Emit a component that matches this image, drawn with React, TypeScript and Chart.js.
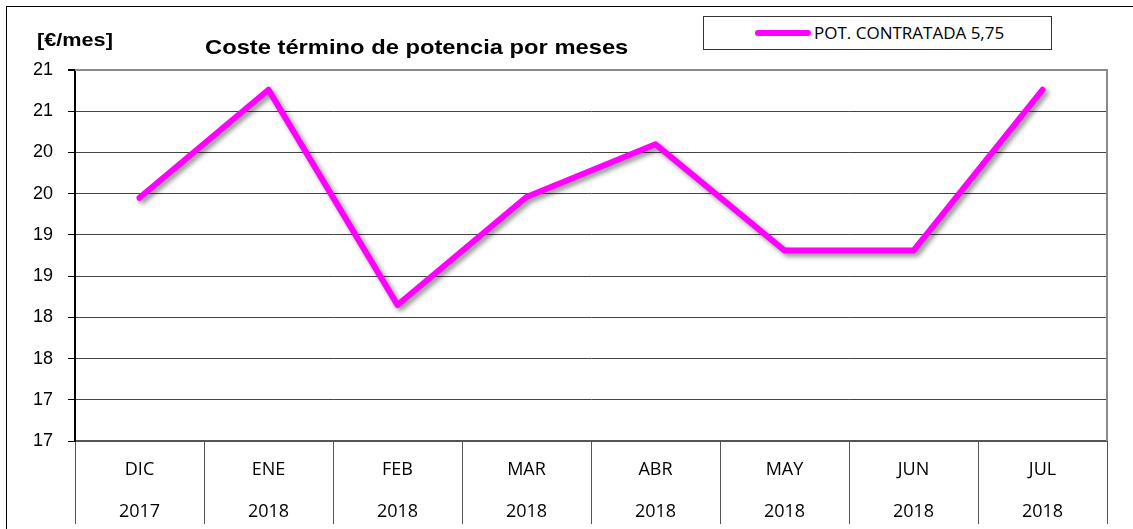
import React, { useEffect, useRef } from "react";
import { Chart, registerables } from "chart.js";

Chart.register(...registerables);

const months = ["DIC", "ENE", "FEB", "MAR", "ABR", "MAY", "JUN", "JUL"];
const years = ["2017", "2018", "2018", "2018", "2018", "2018", "2018", "2018"];
const costValues = [19.45, 20.76, 18.15, 19.46, 20.1, 18.81, 18.81, 20.76];
const seriesName = "POT. CONTRATADA 5,75";
const titleText = "Coste término de potencia por meses";
const unitText = "[€/mes]";
const yMin = 16.5;
const yMax = 21;
const yStep = 0.5;

const MAGENTA = "#FF00FF";

export default function App() {
  const canvasRef = useRef<HTMLCanvasElement | null>(null);

  useEffect(() => {
    const canvas = canvasRef.current;
    if (!canvas) return;

    const shadowPlugin = {
      id: "lineShadow",
      beforeDatasetsDraw(chart: any) {
        const ctx = chart.ctx;
        ctx.save();
        ctx.shadowColor = "rgba(0,0,0,0.45)";
        ctx.shadowBlur = 5;
        ctx.shadowOffsetX = 3;
        ctx.shadowOffsetY = 3;
      },
      afterDatasetsDraw(chart: any) {
        chart.ctx.restore();
      },
    };

    const framePlugin = {
      id: "frame",
      beforeDatasetsDraw(chart: any) {
        const { ctx, chartArea } = chart;
        ctx.save();
        ctx.strokeStyle = "#8a8a8a";
        ctx.lineWidth = 2;
        ctx.beginPath();
        ctx.moveTo(chartArea.left, chartArea.top);
        ctx.lineTo(chartArea.right, chartArea.top);
        ctx.lineTo(chartArea.right, chartArea.bottom);
        ctx.stroke();
        ctx.restore();
      },
    };

    const chart = new Chart(canvas, {
      type: "line",
      data: {
        labels: months.map((m, i) => [m, years[i]]),
        datasets: [
          {
            label: seriesName,
            data: costValues,
            borderColor: MAGENTA,
            backgroundColor: MAGENTA,
            borderWidth: 6,
            borderJoinStyle: "round",
            borderCapStyle: "round",
            pointRadius: 0,
            pointHoverRadius: 0,
            tension: 0,
          },
        ],
      },
      options: {
        animation: false,
        responsive: false,
        maintainAspectRatio: false,
        events: [],
        layout: { padding: { left: 0, top: 70, right: 26, bottom: 0 } },
        plugins: {
          legend: { display: false },
          title: { display: false },
          tooltip: { enabled: false },
        },
        scales: {
          x: {
            offset: true,
            afterFit(scale: any) {
              scale.height = 88;
            },
            grid: {
              offset: true,
              drawOnChartArea: false,
              drawTicks: true,
              tickLength: 83,
              color: "#555",
              lineWidth: 1,
            },
            border: { display: true, color: "#555", width: 2 },
            ticks: {
              padding: -75,
              maxRotation: 0,
              autoSkip: false,
              color: "#000",
              font: { family: "'Open Sans', sans-serif", size: 18, lineHeight: 42 / 18 },
            },
          },
          y: {
            min: yMin,
            max: yMax,
            afterFit(scale: any) {
              scale.width = 75;
            },
            grid: {
              color: (ctx: any) => (ctx.tick && ctx.tick.value === yMax ? "#8a8a8a" : "#444"),
              lineWidth: (ctx: any) => (ctx.tick && ctx.tick.value === yMax ? 2 : 1),
              tickColor: "#000",
              tickLength: 7,
            },
            border: { display: true, color: "#000", width: 2 },
            ticks: {
              stepSize: yStep,
              padding: 15,
              color: "#000",
              font: { family: "'Liberation Sans', Arial, sans-serif", size: 18 },
              callback: (v: any) => String(Math.round(Number(v))),
            },
          },
        },
      },
      plugins: [framePlugin, shadowPlugin],
    } as any);

    return () => chart.destroy();
  }, []);

  return (
    <div
      style={{
        position: "absolute",
        left: 0,
        top: 0,
        width: 1133,
        height: 529,
        overflow: "hidden",
        background: "#fff",
      }}
    >
      <div
        style={{
          position: "absolute",
          left: 6,
          top: 6,
          width: 1200,
          height: 600,
          border: "1.5px solid #000",
        }}
      />
      <canvas
        ref={canvasRef}
        width={1133}
        height={529}
        style={{ position: "absolute", left: 0, top: 0, width: 1133, height: 529 }}
      />
      <div
        style={{
          position: "absolute",
          left: 37,
          top: 29,
          fontFamily: "'Liberation Sans', Arial, sans-serif",
          fontWeight: "bold",
          fontSize: 19,
          lineHeight: "22px",
          color: "#000",
          whiteSpace: "nowrap",
          transform: "scaleX(1.14)",
          transformOrigin: "left center",
        }}
      >
        {unitText}
      </div>
      <div
        style={{
          position: "absolute",
          left: 205,
          top: 35,
          fontFamily: "'Liberation Sans', Arial, sans-serif",
          fontWeight: "bold",
          fontSize: 21,
          lineHeight: "24px",
          color: "#000",
          whiteSpace: "nowrap",
          transform: "scaleX(1.13)",
          transformOrigin: "left center",
        }}
      >
        {titleText}
      </div>
      <div
        style={{
          position: "absolute",
          left: 703,
          top: 16,
          width: 349,
          height: 34,
          border: "1px solid #333",
          boxSizing: "border-box",
          background: "#fff",
        }}
      />
      <div
        style={{
          position: "absolute",
          left: 755,
          top: 30,
          width: 56,
          height: 6,
          borderRadius: 3,
          background: MAGENTA,
        }}
      />
      <div
        style={{
          position: "absolute",
          left: 814,
          top: 22,
          fontFamily: "'Open Sans', sans-serif",
          fontSize: 17,
          lineHeight: "22px",
          color: "#000",
          whiteSpace: "nowrap",
        }}
      >
        {seriesName}
      </div>
    </div>
  );
}
